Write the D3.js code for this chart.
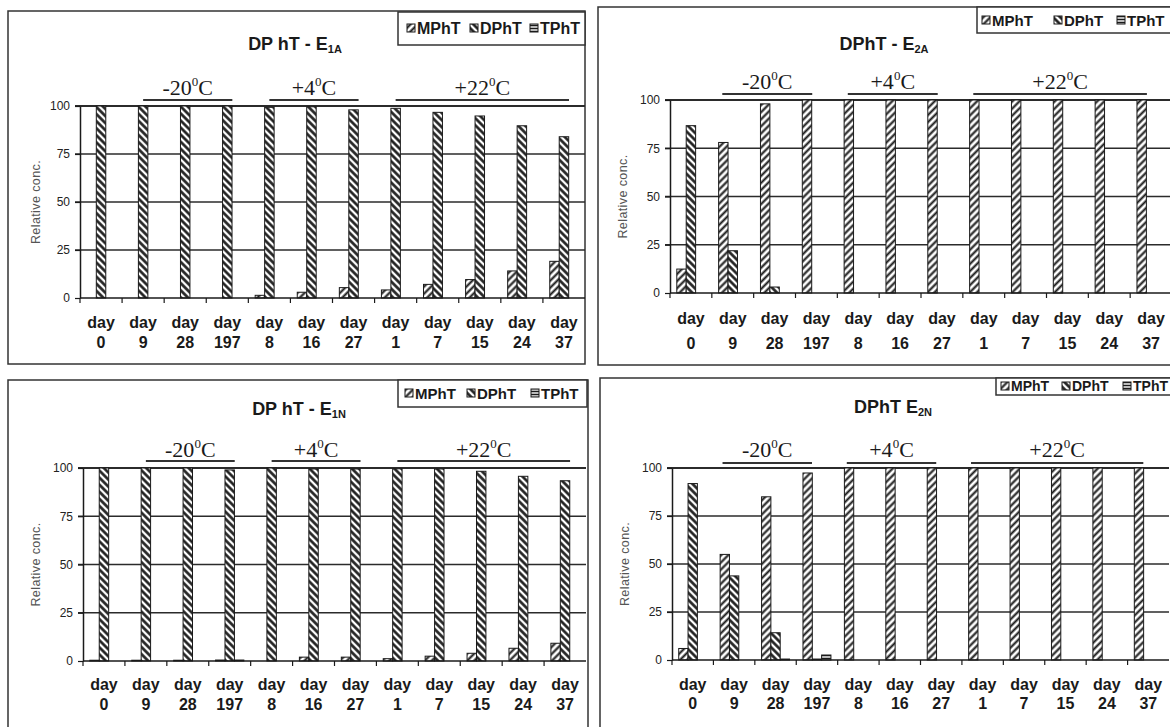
<!DOCTYPE html>
<html>
<head>
<meta charset="utf-8">
<script src="https://cdn.jsdelivr.net/npm/d3@7"></script>
<style>
body { margin: 0; background: #fff; overflow: hidden; }
svg { display: block; }
</style>
</head>
<body>
<svg id="chart" width="1170" height="727"></svg>
<script>
/***********************************************************************/
//Data
/***********************************************************************/
const dayNums = ['0', '9', '28', '197', '8', '16', '27', '1', '7', '15', '24', '37']
const seriesNames = ['MPhT', 'DPhT', 'TPhT']
const yTickValues = [0, 25, 50, 75, 100]

const tempLabels = ['-20', '+4', '+22']
const tempFirst = [1, 4, 7]
const tempLast = [3, 6, 11]

// DPhT - E1A
const e1aM = [0, 0, 0, 0, 1.4, 3, 5.4, 4.2, 7.1, 9.6, 14.1, 19.1]
const e1aD = [100, 100, 100, 100, 99.3, 99.6, 98, 98.8, 96.7, 94.8, 89.7, 84]
const e1aT = [0, 0, 0, 0, 0, 0, 0, 0, 0, 0, 0, 0]

// DPhT - E2A
const e2aM = [12.4, 78, 98, 100, 100, 100, 100, 100, 100, 100, 100, 100]
const e2aD = [86.7, 21.9, 3.1, 0, 0, 0, 0, 0, 0, 0, 0, 0]
const e2aT = [0, 0, 0, 0, 0, 0, 0, 0, 0, 0, 0, 0]

// DPhT - E1N
const e1nM = [0.4, 0.4, 0.4, 0.5, 0, 2, 2, 1.2, 2.5, 4, 6.6, 9.2]
const e1nD = [100, 100, 100, 99, 100, 99.5, 99.5, 99.6, 99.5, 98.3, 95.7, 93.4]
const e1nT = [0, 0, 0, 0.5, 0, 0, 0, 0, 0, 0, 0, 0]

// DPhT E2N
const e2nM = [6, 55, 85, 97.4, 100, 100, 100, 100, 100, 100, 100, 100]
const e2nD = [91.9, 43.8, 14.2, 0.5, 0, 0, 0, 0, 0, 0, 0, 0]
const e2nT = [0, 0, 0.5, 2.6, 0, 0, 0, 0, 0, 0, 0, 0]

/***********************************************************************/
//Layout (one object per panel)
/***********************************************************************/
const panels = [
	{ title: 'DP hT - E', sub: '1A', values: [e1aM, e1aD, e1aT],
	  frame: [8, 11, 577, 353], x0: 80, x1: 585, yTop: 106, yBot: 298,
	  titleX: 295, titleY: 50,
	  legend: { box: [398, 12, 187, 33], cy: 28, font: 16, sw: [407, 470, 530] },
	  tempY: 95, lineY: 100, lineS: 0.5, lineE: 0.62, dayDy: 24, numDy: 44, yTitleX: 36 },
	{ title: 'DPhT - E', sub: '2A', values: [e2aM, e2aD, e2aT],
	  frame: [598, 7, 620, 358], x0: 670, x1: 1172, yTop: 100, yBot: 293,
	  titleX: 884, titleY: 50,
	  legend: { box: [977, 7, 240, 26], cy: 20, font: 15, sw: [982, 1054, 1117] },
	  tempY: 89, lineY: 94, lineS: 0.25, lineE: 0.4, dayDy: 25, numDy: 50, yTitleX: 623 },
	{ title: 'DP hT - E', sub: '1N', values: [e1nM, e1nD, e1nT],
	  frame: [8, 380, 580, 380], x0: 83, x1: 586, yTop: 468, yBot: 661,
	  titleX: 299, titleY: 415,
	  legend: { box: [398, 380, 189, 27], cy: 393, font: 15, sw: [405, 467, 531] },
	  tempY: 457, lineY: 461, lineS: 0.5, lineE: 0.62, dayDy: 23, numDy: 43, yTitleX: 36 },
	{ title: 'DPhT E', sub: '2N', values: [e2nM, e2nD, e2nT],
	  frame: [600, 378, 620, 380], x0: 672, x1: 1169, yTop: 468, yBot: 660,
	  titleX: 893, titleY: 413,
	  legend: { box: [996, 378, 220, 17], cy: 386, font: 14, sw: [1001, 1062, 1123] },
	  tempY: 457, lineY: 463, lineS: 0.22, lineE: 0.38, dayDy: 24, numDy: 43, yTitleX: 625 }
]

const ink = '#1a1a1a'
const sans = "'Liberation Sans', Arial, sans-serif"
const serif = "'Liberation Serif', 'Times New Roman', serif"

const svg = d3.select('#chart')

/***********************************************************************/
//Patterns
/***********************************************************************/
const defs = svg.append('defs')

function stripes(id, angle, size, sw) {
	const p = defs.append('pattern')
		.attr('id', id)
		.attr('patternUnits', 'userSpaceOnUse')
		.attr('width', size)
		.attr('height', size)
		.attr('patternTransform', `rotate(${angle})`)
	p.append('rect').attr('width', size).attr('height', size).attr('fill', '#fff')
	p.append('line')
		.attr('x1', size / 2).attr('y1', 0)
		.attr('x2', size / 2).attr('y2', size)
		.attr('stroke', ink)
		.attr('stroke-width', sw)
}
stripes('pat-MPhT', 45, 5, 2.1)
stripes('pat-DPhT', -45, 5, 2.6)
stripes('pat-TPhT', 90, 3, 1.6)

/***********************************************************************/
//Panels
/***********************************************************************/
panels.forEach(p => {

	const g = svg.append('g')

	const x = d3.scaleBand()
		.domain(dayNums)
		.range([p.x0, p.x1])

	const bw = x.bandwidth()
	const barW = bw * 0.225

	const xs = d3.scaleBand()
		.domain(seriesNames)
		.range([bw / 2 - 1.5 * barW, bw / 2 + 1.5 * barW])

	const y = d3.scaleLinear()
		.domain([0, 100])
		.range([p.yBot, p.yTop])

	// frame
	g.append('rect')
		.attr('x', p.frame[0]).attr('y', p.frame[1])
		.attr('width', p.frame[2]).attr('height', p.frame[3])
		.attr('fill', 'none')
		.attr('stroke', '#333')
		.attr('stroke-width', 1.5)

	// gridlines
	g.append('g')
		.selectAll('line')
		.data(yTickValues.filter(d => d > 0))
		.join('line')
		.attr('x1', p.x0 - 5)
		.attr('x2', p.x1)
		.attr('y1', d => y(d))
		.attr('y2', d => y(d))
		.attr('stroke', '#2b2b2b')
		.attr('stroke-width', d => d === 100 ? 2 : 1.5)

	// y axis
	const yAxisG = g.append('g')
		.attr('transform', `translate(${p.x0},0)`)
		.call(d3.axisLeft(y).tickValues(yTickValues).tickSize(5).tickSizeOuter(0).tickPadding(5))
	yAxisG.select('.domain').attr('stroke', ink).attr('stroke-width', 1.5)
	yAxisG.selectAll('.tick line').attr('stroke', ink).attr('stroke-width', 1.2)
	yAxisG.selectAll('.tick text')
		.attr('fill', '#222')
		.style('font-family', sans)
		.style('font-size', '12px')

	// y title
	g.append('text')
		.attr('transform', `translate(${p.yTitleX},${(p.yTop + p.yBot) / 2}) rotate(-90)`)
		.attr('text-anchor', 'middle')
		.attr('dominant-baseline', 'central')
		.attr('fill', '#555')
		.style('font-family', sans)
		.style('font-size', '12.5px')
		.style('letter-spacing', '0.4px')
		.text('Relative conc.')

	// bars
	seriesNames.forEach((s, si) => {
		g.append('g')
			.selectAll('rect')
			.data(p.values[si].map((v, i) => ({ day: dayNums[i], v })))
			.join('rect')
			.filter(d => d.v > 0)
			.attr('x', d => x(d.day) + xs(s))
			.attr('width', xs.bandwidth())
			.attr('y', d => y(d.v))
			.attr('height', d => y(0) - y(d.v))
			.attr('fill', `url(#pat-${s})`)
			.attr('stroke', ink)
			.attr('stroke-width', 1)
	})

	// x axis line and ticks
	g.append('line')
		.attr('x1', p.x0).attr('x2', p.x1)
		.attr('y1', p.yBot).attr('y2', p.yBot)
		.attr('stroke', ink)
		.attr('stroke-width', 1.6)

	g.append('g')
		.selectAll('line')
		.data(dayNums)
		.join('line')
		.attr('x1', d => x(d)).attr('x2', d => x(d))
		.attr('y1', p.yBot).attr('y2', p.yBot + 5)
		.attr('stroke', ink)
		.attr('stroke-width', 1.2)

	// x labels
	const lab = g.append('g')
		.selectAll('g')
		.data(dayNums)
		.join('g')
		.attr('transform', d => `translate(${x(d) + bw / 2},${p.yBot})`)
		.style('font-family', sans)
		.style('font-weight', 'bold')
		.style('font-size', '16px')
		.attr('fill', ink)
		.attr('text-anchor', 'middle')

	lab.append('text')
		.attr('y', p.dayDy)
		.attr('dominant-baseline', 'central')
		.text('day')
	lab.append('text')
		.attr('y', p.numDy)
		.attr('dominant-baseline', 'central')
		.text(d => d)

	// title
	const t = g.append('text')
		.attr('x', p.titleX)
		.attr('y', p.titleY)
		.attr('text-anchor', 'middle')
		.attr('fill', ink)
		.style('font-family', sans)
		.style('font-weight', 'bold')
		.style('font-size', '18px')
	t.append('tspan').text(p.title)
	t.append('tspan')
		.attr('dy', 3)
		.style('font-size', '11px')
		.text(p.sub)

	// temperature groups
	tempLabels.forEach((lbl, i) => {
		const lx1 = x(dayNums[tempFirst[i]]) + bw * p.lineS
		const lx2 = x(dayNums[tempLast[i]]) + bw * p.lineE
		g.append('line')
			.attr('x1', lx1).attr('x2', lx2)
			.attr('y1', p.lineY).attr('y2', p.lineY)
			.attr('stroke', '#333')
			.attr('stroke-width', 2)

		const tt = g.append('text')
			.attr('x', (lx1 + lx2) / 2)
			.attr('y', p.tempY)
			.attr('text-anchor', 'middle')
			.attr('fill', ink)
			.style('font-family', serif)
			.style('font-size', '22px')
		tt.append('tspan').text(lbl)
		tt.append('tspan').attr('dy', -9).style('font-size', '13px').text('0')
		tt.append('tspan').attr('dy', 9).text('C')
	})

	// legend
	const L = p.legend
	g.append('rect')
		.attr('x', L.box[0]).attr('y', L.box[1])
		.attr('width', L.box[2]).attr('height', L.box[3])
		.attr('fill', '#fff')
		.attr('stroke', '#333')
		.attr('stroke-width', 1.5)

	seriesNames.forEach((s, i) => {
		g.append('rect')
			.attr('x', L.sw[i]).attr('y', L.cy - 4)
			.attr('width', 8).attr('height', 8)
			.attr('fill', `url(#pat-${s})`)
			.attr('stroke', ink)
			.attr('stroke-width', 1)
		g.append('text')
			.attr('x', L.sw[i] + 10)
			.attr('y', L.cy)
			.attr('dominant-baseline', 'central')
			.attr('fill', ink)
			.style('font-family', sans)
			.style('font-weight', 'bold')
			.style('font-size', L.font + 'px')
			.text(s)
	})
})
</script>
</body>
</html>
